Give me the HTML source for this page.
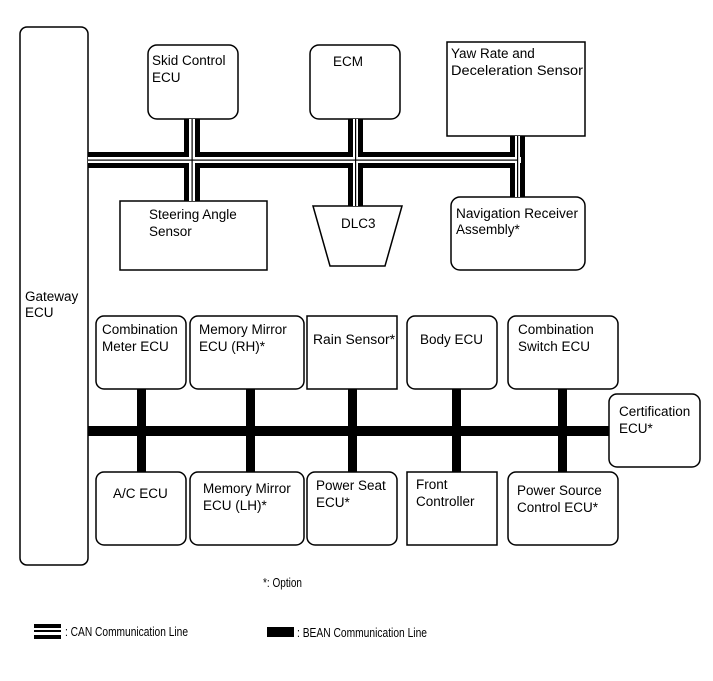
<!DOCTYPE html>
<html><head><meta charset="utf-8"><style>
html,body{margin:0;padding:0;background:#fff;}
svg{display:block;}
text{font-family:"Liberation Sans",Arial,sans-serif;font-size:13.5px;fill:#000;}
</style></head><body>
<svg width="713" height="681" viewBox="0 0 713 681" xmlns="http://www.w3.org/2000/svg">
<g fill="#fff" stroke="#000" stroke-width="1.5">
<rect x="20" y="27" width="68" height="538" rx="7"/>
<rect x="148" y="45" width="90" height="74" rx="9"/>
<rect x="310" y="45" width="90" height="74" rx="9"/>
<rect x="447" y="42" width="138" height="94"/>
<rect x="120" y="201" width="147" height="69"/>
<polygon points="313,206 402,206 385,266 330,266"/>
<rect x="451" y="197" width="134" height="73" rx="9"/>
<rect x="96" y="316" width="90" height="73" rx="8"/>
<rect x="190" y="316" width="114" height="73" rx="8"/>
<rect x="307" y="316" width="90" height="73"/>
<rect x="407" y="316" width="90" height="73" rx="8"/>
<rect x="508" y="316" width="110" height="73" rx="8"/>
<rect x="609" y="394" width="91" height="73" rx="8"/>
<rect x="96" y="472" width="90" height="73" rx="8"/>
<rect x="190" y="472" width="114" height="73" rx="8"/>
<rect x="307" y="472" width="90" height="73" rx="8"/>
<rect x="407" y="472" width="90" height="73"/>
<rect x="508" y="472" width="110" height="73" rx="8"/>
</g>
<g>
<rect x="88" y="152" width="437" height="16" fill="#000"/>
<rect x="184" y="119" width="16" height="82" fill="#000"/>
<rect x="348" y="119" width="15" height="87" fill="#000"/>
<rect x="510" y="136" width="15" height="61" fill="#000"/>
<rect x="88" y="157" width="433" height="6" fill="#fff"/>
<rect x="189" y="119" width="6" height="82" fill="#fff"/>
<rect x="353" y="119" width="5" height="87" fill="#fff"/>
<rect x="515" y="136" width="5" height="61" fill="#fff"/>
<rect x="88" y="159.5" width="430" height="1.2" fill="#000"/>
<rect x="191.5" y="119" width="1.2" height="82" fill="#000"/>
<rect x="355" y="119" width="1.2" height="87" fill="#000"/>
<rect x="517" y="136" width="1.2" height="61" fill="#000"/>
</g>
<g fill="#000">
<rect x="88" y="426" width="521" height="10"/>
<rect x="137" y="389" width="9" height="83"/>
<rect x="246" y="389" width="9" height="83"/>
<rect x="348" y="389" width="9" height="83"/>
<rect x="452" y="389" width="9" height="83"/>
<rect x="558" y="389" width="9" height="83"/>
</g>
<text x="25" y="301">Gateway</text><text x="25" y="317">ECU</text>
<text x="152" y="65">Skid Control</text><text x="152" y="82">ECU</text>
<text x="333" y="66">ECM</text>
<text x="451" y="58">Yaw Rate and</text><text x="451" y="75" textLength="132" lengthAdjust="spacingAndGlyphs">Deceleration Sensor</text>
<text x="149" y="219">Steering Angle</text><text x="149" y="236">Sensor</text>
<text x="341" y="228">DLC3</text>
<text x="456" y="218" textLength="122" lengthAdjust="spacingAndGlyphs">Navigation Receiver</text><text x="456" y="234">Assembly*</text>
<text x="102" y="334">Combination</text><text x="102" y="351">Meter ECU</text>
<text x="199" y="334">Memory Mirror</text><text x="199" y="351">ECU (RH)*</text>
<text x="313" y="344" textLength="82" lengthAdjust="spacingAndGlyphs">Rain Sensor*</text>
<text x="420" y="344">Body ECU</text>
<text x="518" y="334">Combination</text><text x="518" y="351">Switch ECU</text>
<text x="619" y="416">Certification</text><text x="619" y="433">ECU*</text>
<text x="113" y="498">A/C ECU</text>
<text x="203" y="493">Memory Mirror</text><text x="203" y="510">ECU (LH)*</text>
<text x="316" y="490">Power Seat</text><text x="316" y="507">ECU*</text>
<text x="416" y="489">Front</text><text x="416" y="506">Controller</text>
<text x="517" y="495">Power Source</text><text x="517" y="512">Control ECU*</text>
<text x="263" y="587" style="font-size:13px" textLength="39" lengthAdjust="spacingAndGlyphs">*: Option</text>
<rect x="34" y="624" width="27" height="4" fill="#000"/>
<rect x="34" y="630" width="27" height="2" fill="#000"/>
<rect x="34" y="635" width="27" height="4" fill="#000"/>
<text x="65" y="636" style="font-size:13px" textLength="123" lengthAdjust="spacingAndGlyphs">: CAN Communication Line</text>
<rect x="267" y="627" width="27" height="10" fill="#000"/>
<text x="297" y="637" style="font-size:13px" textLength="130" lengthAdjust="spacingAndGlyphs">: BEAN Communication Line</text>
</svg>
</body></html>
